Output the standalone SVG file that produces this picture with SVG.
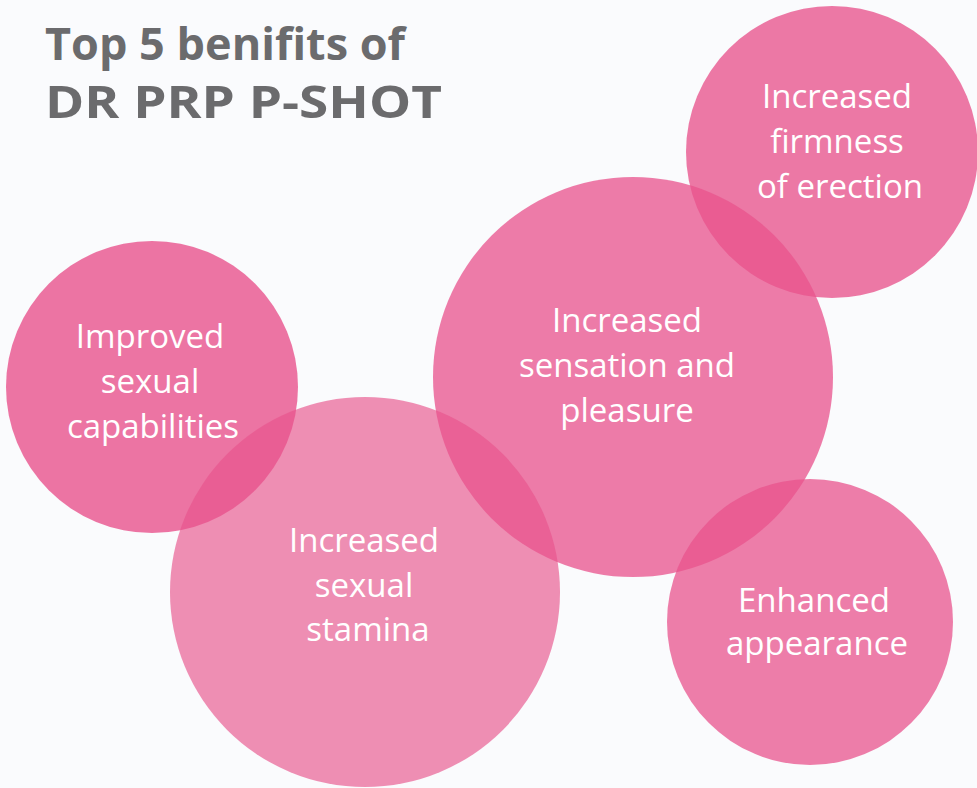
<svg xmlns="http://www.w3.org/2000/svg" width="977" height="788" viewBox="0 0 977 788">
<style>
.c{fill:#E8538C}
.t{font-family:"Open Sans","Noto Sans","DejaVu Sans",sans-serif;font-size:33px;fill:#ffffff;text-anchor:middle}
.h{font-family:"Open Sans","Noto Sans","DejaVu Sans",sans-serif;font-size:45px;font-weight:bold;fill:#6b6b6d}
</style>
<rect x="0" y="0" width="977" height="788" fill="#FAFBFD"/>
<g id="title">
<text class="h" x="45" y="60" textLength="360" lengthAdjust="spacingAndGlyphs">Top 5 benifits of</text>
<text class="h" x="45" y="118" textLength="397" lengthAdjust="spacingAndGlyphs">DR PRP P-SHOT</text>
</g>
<g id="connectors"></g>
<g id="node-firmness">
<circle class="c" cx="832" cy="152" r="146" opacity="0.78"/>
<text class="t" x="837" y="108">Increased</text>
<text class="t" x="837" y="153">firmness</text>
<text class="t" x="840" y="198">of erection</text>
</g>
<g id="node-capabilities">
<circle class="c" cx="152" cy="387" r="146" opacity="0.8"/>
<text class="t" x="150" y="348">Improved</text>
<text class="t" x="150" y="393">sexual</text>
<text class="t" x="153" y="438">capabilities</text>
</g>
<g id="node-sensation">
<circle class="c" cx="633" cy="377" r="200" opacity="0.76"/>
<text class="t" x="627" y="332">Increased</text>
<text class="t" x="627" y="377">sensation and</text>
<text class="t" x="627" y="422">pleasure</text>
</g>
<g id="node-stamina">
<circle class="c" cx="365" cy="592" r="195" opacity="0.65"/>
<text class="t" x="364" y="552">Increased</text>
<text class="t" x="364" y="597">sexual</text>
<text class="t" x="368" y="641">stamina</text>
</g>
<g id="node-appearance">
<circle class="c" cx="810" cy="622" r="143" opacity="0.75"/>
<text class="t" x="814" y="612">Enhanced</text>
<text class="t" x="817" y="655">appearance</text>
</g>
</svg>
